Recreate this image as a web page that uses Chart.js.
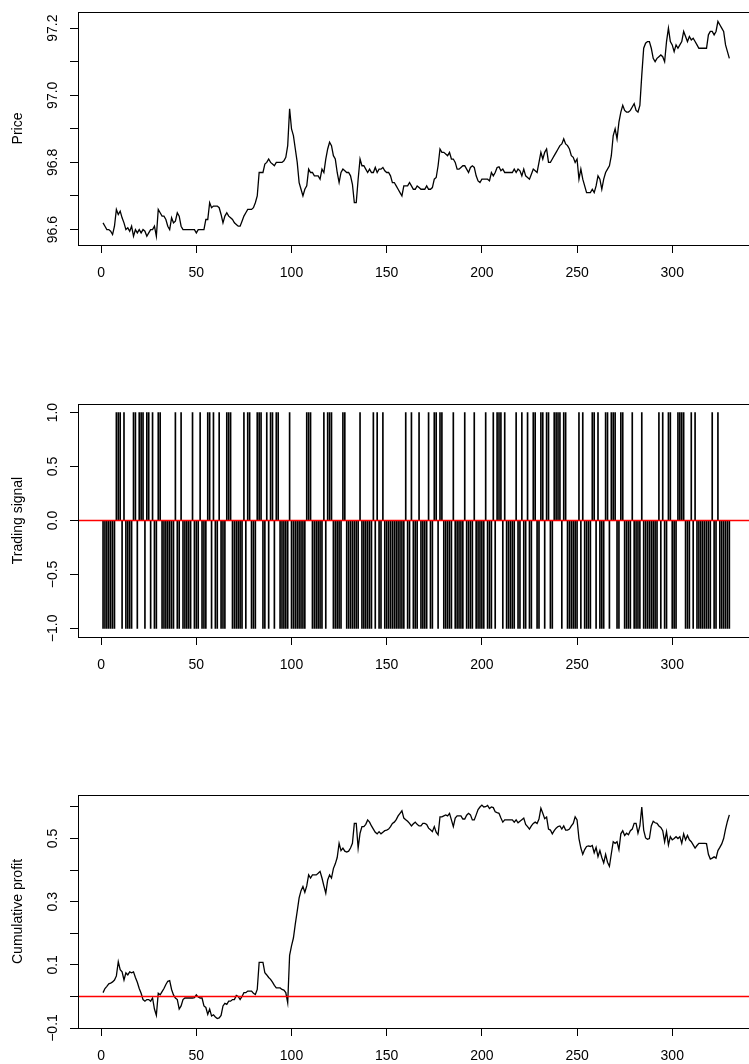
<!DOCTYPE html>
<html>
<head>
<meta charset="utf-8">
<script src="https://cdn.jsdelivr.net/npm/chart.js@4.4.0/dist/chart.umd.min.js"></script>
<style>
  html, body { margin: 0; padding: 0; background: #fff; width: 749px; height: 1064px; overflow: hidden; position: relative; }
  canvas { position: absolute; left: 0; }
</style>
</head>
<body>
<canvas id="price-chart" width="800" height="290" style="top:0px"></canvas>
<canvas id="signal-chart" width="800" height="290" style="top:392px"></canvas>
<canvas id="profit-chart" width="800" height="290" style="top:783px"></canvas>
<script>
// series, one value per day
const price = [
  96.62, 96.61, 96.60, 96.60, 96.595, 96.585, 96.61, 96.66, 96.645, 96.655,
  96.635, 96.62, 96.60, 96.605, 96.595, 96.61, 96.58, 96.60, 96.59, 96.60,
  96.59, 96.60, 96.595, 96.58, 96.59, 96.60, 96.60, 96.61, 96.58, 96.66,
  96.65, 96.64, 96.64, 96.63, 96.61, 96.60, 96.635, 96.62, 96.625, 96.65,
  96.64, 96.61, 96.60, 96.60, 96.60, 96.60, 96.60, 96.60, 96.60, 96.59,
  96.60, 96.60, 96.60, 96.60, 96.63, 96.63, 96.68, 96.665, 96.67, 96.67,
  96.67, 96.665, 96.645, 96.62, 96.64, 96.65, 96.64, 96.635, 96.63, 96.62,
  96.615, 96.61, 96.61, 96.625, 96.64, 96.65, 96.66, 96.66, 96.66, 96.665,
  96.68, 96.70, 96.77, 96.77, 96.77, 96.795, 96.80, 96.81, 96.80, 96.795,
  96.79, 96.80, 96.80, 96.80, 96.80, 96.805, 96.815, 96.85, 96.96, 96.90,
  96.88, 96.84, 96.80, 96.74, 96.72, 96.70, 96.72, 96.73, 96.78, 96.77,
  96.77, 96.76, 96.76, 96.76, 96.75, 96.78, 96.77, 96.81, 96.84, 96.86,
  96.85, 96.82, 96.81, 96.77, 96.74, 96.77, 96.78, 96.775, 96.77, 96.77,
  96.76, 96.735, 96.68, 96.68, 96.75, 96.81, 96.79, 96.79, 96.78, 96.77,
  96.78, 96.77, 96.77, 96.785, 96.77, 96.78, 96.78, 96.785, 96.775, 96.77,
  96.77, 96.76, 96.74, 96.74, 96.73, 96.72, 96.71, 96.70, 96.73, 96.73,
  96.73, 96.74, 96.73, 96.72, 96.72, 96.73, 96.725, 96.72, 96.72, 96.72,
  96.73, 96.72, 96.72, 96.725, 96.75, 96.755, 96.79, 96.84, 96.83, 96.83,
  96.825, 96.82, 96.83, 96.81, 96.81, 96.80, 96.78, 96.78, 96.785, 96.79,
  96.79, 96.78, 96.77, 96.785, 96.79, 96.785, 96.76, 96.745, 96.74, 96.75,
  96.75, 96.75, 96.75, 96.745, 96.77, 96.76, 96.77, 96.785, 96.787, 96.775,
  96.78, 96.77, 96.77, 96.77, 96.77, 96.77, 96.78, 96.77, 96.78, 96.775,
  96.76, 96.78, 96.76, 96.755, 96.75, 96.765, 96.78, 96.775, 96.77, 96.80,
  96.83, 96.81, 96.83, 96.84, 96.80, 96.80, 96.81, 96.82, 96.83, 96.84,
  96.85, 96.855, 96.87, 96.855, 96.85, 96.84, 96.82, 96.815, 96.80, 96.81,
  96.75, 96.78, 96.75, 96.73, 96.71, 96.71, 96.71, 96.72, 96.71, 96.73,
  96.76, 96.75, 96.72, 96.75, 96.77, 96.78, 96.79, 96.82, 96.88, 96.90,
  96.87, 96.92, 96.95, 96.97, 96.955, 96.95, 96.95, 96.955, 96.965, 96.975,
  96.955, 96.95, 96.97, 97.06, 97.14, 97.155, 97.16, 97.16, 97.14, 97.11,
  97.10, 97.11, 97.115, 97.12, 97.115, 97.10, 97.16, 97.20, 97.16, 97.15,
  97.13, 97.15, 97.14, 97.15, 97.16, 97.19, 97.175, 97.16, 97.175, 97.165,
  97.17, 97.16, 97.15, 97.14, 97.14, 97.14, 97.14, 97.14, 97.18, 97.19,
  97.19, 97.18, 97.19, 97.22, 97.21, 97.20, 97.19, 97.15, 97.13, 97.11
];

const signal = [
  -1, -1, -1, -1, -1, -1, -1, 1, 1, 1, -1, 1, -1, -1, -1, -1, 1, 1, -1, 1, 1, 1, -1, 1, 1, -1, 1, -1, -1, 1,
  1, -1, -1, -1, -1, -1, -1, -1, 1, -1, -1, 1, -1, -1, -1, -1, -1, 1, -1, -1, -1, 1, -1, -1, -1, 1, 1, -1, 1, -1,
  -1, 1, -1, -1, -1, 1, 1, 1, -1, -1, -1, -1, -1, -1, 1, -1, 1, 1, -1, -1, -1, 1, 1, 1, -1, -1, 1, -1, 1, 1,
  -1, 1, 1, -1, -1, -1, -1, -1, 1, -1, -1, -1, -1, -1, -1, -1, -1, 1, 1, 1, -1, -1, -1, -1, -1, -1, 1, -1, 1, 1,
  1, -1, -1, -1, -1, -1, 1, 1, -1, -1, -1, -1, -1, -1, -1, 1, -1, -1, -1, -1, -1, -1, 1, -1, 1, -1, -1, 1, -1, -1,
  -1, -1, -1, -1, -1, -1, -1, -1, -1, 1, -1, -1, 1, -1, -1, -1, 1, -1, -1, -1, -1, 1, -1, -1, 1, 1, -1, 1, 1, -1,
  -1, -1, -1, -1, 1, -1, -1, -1, -1, -1, 1, -1, -1, -1, -1, 1, -1, -1, -1, -1, -1, 1, -1, -1, -1, 1, -1, 1, 1, 1,
  -1, 1, -1, -1, -1, -1, -1, 1, -1, -1, 1, -1, -1, 1, -1, -1, 1, 1, -1, -1, 1, 1, -1, 1, 1, -1, -1, 1, 1, 1,
  1, -1, 1, 1, -1, -1, -1, -1, -1, -1, 1, -1, 1, -1, -1, -1, -1, 1, 1, -1, 1, -1, -1, -1, 1, 1, -1, 1, 1, 1,
  -1, -1, 1, 1, -1, -1, -1, -1, 1, -1, -1, -1, -1, 1, -1, -1, -1, -1, -1, -1, -1, -1, 1, -1, 1, -1, -1, 1, 1, -1,
  -1, -1, 1, 1, 1, 1, -1, -1, -1, 1, -1, 1, -1, -1, -1, -1, -1, -1, -1, -1, 1, -1, -1, 1, -1, -1, -1, -1, -1, -1
];

const profit = [
  0.012, 0.025, 0.032, 0.040, 0.042, 0.046, 0.052, 0.065, 0.110, 0.085,
  0.078, 0.052, 0.075, 0.068, 0.078, 0.075, 0.078, 0.060, 0.045, 0.025,
  0.010, -0.010, -0.015, -0.010, -0.010, -0.015, -0.005, -0.040, -0.060, 0.010,
  0.005, 0.015, 0.025, 0.038, 0.048, 0.050, 0.022, 0.005, -0.005, -0.010,
  -0.040, -0.030, -0.010, -0.005, -0.005, -0.005, -0.005, -0.005, -0.004, 0.005,
  -0.002, -0.005, -0.005, -0.030, -0.035, -0.057, -0.040, -0.062, -0.058, -0.065,
  -0.070, -0.068, -0.060, -0.030, -0.022, -0.025, -0.015, -0.015, -0.010, -0.010,
  0.003, 0.000, -0.010, 0.000, 0.012, 0.012, 0.017, 0.017, 0.017, 0.010,
  0.006, 0.022, 0.108, 0.108, 0.108, 0.075, 0.068, 0.060, 0.054, 0.045,
  0.035, 0.027, 0.027, 0.027, 0.022, 0.020, 0.012, -0.020, 0.130, 0.160,
  0.185, 0.230, 0.270, 0.312, 0.335, 0.348, 0.330, 0.350, 0.385, 0.375,
  0.385, 0.385, 0.385, 0.390, 0.396, 0.375, 0.350, 0.327, 0.369, 0.385,
  0.375, 0.405, 0.420, 0.440, 0.485, 0.462, 0.470, 0.460, 0.457, 0.460,
  0.470, 0.485, 0.548, 0.548, 0.470, 0.517, 0.538, 0.538, 0.545, 0.559,
  0.552, 0.540, 0.530, 0.520, 0.515, 0.522, 0.515, 0.520, 0.525, 0.527,
  0.530, 0.538, 0.548, 0.552, 0.560, 0.572, 0.580, 0.588, 0.565, 0.560,
  0.555, 0.548, 0.540, 0.547, 0.552, 0.545, 0.540, 0.540, 0.548, 0.548,
  0.545, 0.533, 0.528, 0.522, 0.538, 0.520, 0.512, 0.569, 0.569, 0.572,
  0.575, 0.572, 0.580, 0.559, 0.538, 0.565, 0.572, 0.572, 0.572, 0.562,
  0.562, 0.574, 0.580, 0.575, 0.559, 0.559, 0.575, 0.592, 0.600, 0.606,
  0.600, 0.601, 0.605, 0.595, 0.600, 0.598, 0.585, 0.582, 0.580, 0.565,
  0.552, 0.559, 0.559, 0.559, 0.559, 0.559, 0.552, 0.559, 0.550, 0.555,
  0.560, 0.565, 0.545, 0.538, 0.530, 0.540, 0.548, 0.552, 0.548, 0.562,
  0.596, 0.580, 0.563, 0.568, 0.530, 0.527, 0.515, 0.525, 0.533, 0.538,
  0.540, 0.530, 0.540, 0.527, 0.527, 0.530, 0.540, 0.548, 0.569, 0.559,
  0.500, 0.470, 0.450, 0.465, 0.475, 0.477, 0.475, 0.478, 0.455, 0.472,
  0.443, 0.462, 0.440, 0.423, 0.450, 0.425, 0.412, 0.452, 0.490, 0.485,
  0.490, 0.465, 0.515, 0.525, 0.510, 0.517, 0.512, 0.525, 0.530, 0.548,
  0.548, 0.517, 0.540, 0.600, 0.527, 0.502, 0.498, 0.500, 0.540, 0.555,
  0.550, 0.548, 0.540, 0.535, 0.525, 0.490, 0.522, 0.480, 0.506, 0.496,
  0.500, 0.506, 0.500, 0.506, 0.485, 0.515, 0.496, 0.510, 0.496, 0.490,
  0.480, 0.470, 0.478, 0.485, 0.485, 0.485, 0.485, 0.484, 0.450, 0.435,
  0.438, 0.442, 0.438, 0.462, 0.472, 0.483, 0.500, 0.530, 0.555, 0.575
];

// ticks
const dayTicks = [0, 50, 100, 150, 200, 250, 300];
const priceTicks = [96.6, 96.7, 96.8, 96.9, 97.0, 97.1, 97.2];
const priceTickLabels = ["96.6", "", "96.8", "", "97.0", "", "97.2"];
const signalTicks = [-1, -0.5, 0, 0.5, 1];
const signalTickLabels = ["\u22121.0", "\u22120.5", "0.0", "0.5", "1.0"];
const profitTicks = [-0.1, 0, 0.1, 0.2, 0.3, 0.4, 0.5, 0.6];
const profitTickLabels = ["\u22120.1", "", "0.1", "", "0.3", "", "0.5", ""];

// axis limits (R style, 4% beyond the data)
const dayLim = [-12.16, 343.16];
const priceLim = [96.554, 97.248];
const signalLim = [-1.08, 1.08];
const profitLim = [-0.1, 0.638];

const days = price.map((_, i) => i + 1);
const FONT = "'Liberation Sans', Arial, Helvetica, sans-serif";

// frame, rotated y labels and the red h line
const rStyle = {
  id: "rStyle",
  afterDatasetsDraw(chart, args, opts) {
    if (opts.hline === undefined || opts.hline === null) return;
    const { ctx, chartArea: a, scales } = chart;
    const y = scales.y.getPixelForValue(opts.hline);
    ctx.save();
    ctx.beginPath();
    ctx.rect(a.left, a.top, a.right - a.left, a.bottom - a.top);
    ctx.clip();
    ctx.strokeStyle = "#ff0000";
    ctx.lineWidth = 1.5;
    ctx.beginPath();
    ctx.moveTo(a.left, y);
    ctx.lineTo(a.right, y);
    ctx.stroke();
    ctx.restore();
  },
  afterDraw(chart, args, opts) {
    const { ctx, chartArea: a, scales } = chart;
    ctx.save();
    ctx.strokeStyle = "#000";
    ctx.lineWidth = 1;
    ctx.strokeRect(Math.round(a.left) + 0.5, Math.round(a.top) + 0.5,
      Math.round(a.right - a.left), Math.round(a.bottom - a.top));
    ctx.fillStyle = "#000";
    ctx.font = `14px ${FONT}`;
    ctx.textAlign = "center";
    ctx.textBaseline = "middle";
    scales.y.ticks.forEach((t, j) => {
      const label = opts.labels[j];
      if (!label) return;
      ctx.save();
      ctx.translate(a.left - 24.5, scales.y.getPixelForValue(t.value));
      ctx.rotate(-Math.PI / 2);
      ctx.fillText(label, 0, 0);
      ctx.restore();
    });
    ctx.restore();
  }
};

const makeChart = (id, type, dataset, yLim, yTicks, yLabels, yTitle, hline) =>
  new Chart(document.getElementById(id), {
    type: type,
    data: { labels: days, datasets: [dataset] },
    options: {
      responsive: false,
      animation: false,
      events: [],
      layout: { padding: { top: 12, right: 45.6, bottom: 0, left: 0 } },
      plugins: {
        legend: { display: false },
        tooltip: { enabled: false },
        rStyle: { labels: yLabels, hline: hline }
      },
      scales: {
        x: {
          type: "linear",
          min: dayLim[0],
          max: dayLim[1],
          offset: false,
          afterBuildTicks: (s) => { s.ticks = dayTicks.map((v) => ({ value: v })); },
          afterFit: (s) => { s.height = 45; },
          grid: { drawOnChartArea: false, drawTicks: true, tickLength: 8, color: "#000", offset: false },
          border: { display: false },
          ticks: { color: "#000", font: { family: FONT, size: 14 }, padding: 11.5, maxRotation: 0, autoSkip: false }
        },
        y: {
          type: "linear",
          min: yLim[0],
          max: yLim[1],
          afterBuildTicks: (s) => { s.ticks = yTicks.map((v) => ({ value: v })); },
          afterFit: (s) => { s.width = 78; },
          grid: { drawOnChartArea: false, drawTicks: true, tickLength: 8, color: "#000" },
          border: { display: false },
          ticks: { display: false },
          title: { display: true, text: yTitle, color: "#000", font: { family: FONT, size: 14 }, padding: { top: 10, bottom: 0 } }
        }
      }
    },
    plugins: [rStyle]
  });

makeChart("price-chart", "line",
  { data: price, borderColor: "#000", borderWidth: 1.3, pointRadius: 0, tension: 0, fill: false },
  priceLim, priceTicks, priceTickLabels, "Price", null);

makeChart("signal-chart", "bar",
  { data: signal, backgroundColor: "#000", borderWidth: 0, barThickness: 1 },
  signalLim, signalTicks, signalTickLabels, "Trading signal", 0);

makeChart("profit-chart", "line",
  { data: profit, borderColor: "#000", borderWidth: 1.3, pointRadius: 0, tension: 0, fill: false },
  profitLim, profitTicks, profitTickLabels, "Cumulative profit", 0);
</script>
</body>
</html>
